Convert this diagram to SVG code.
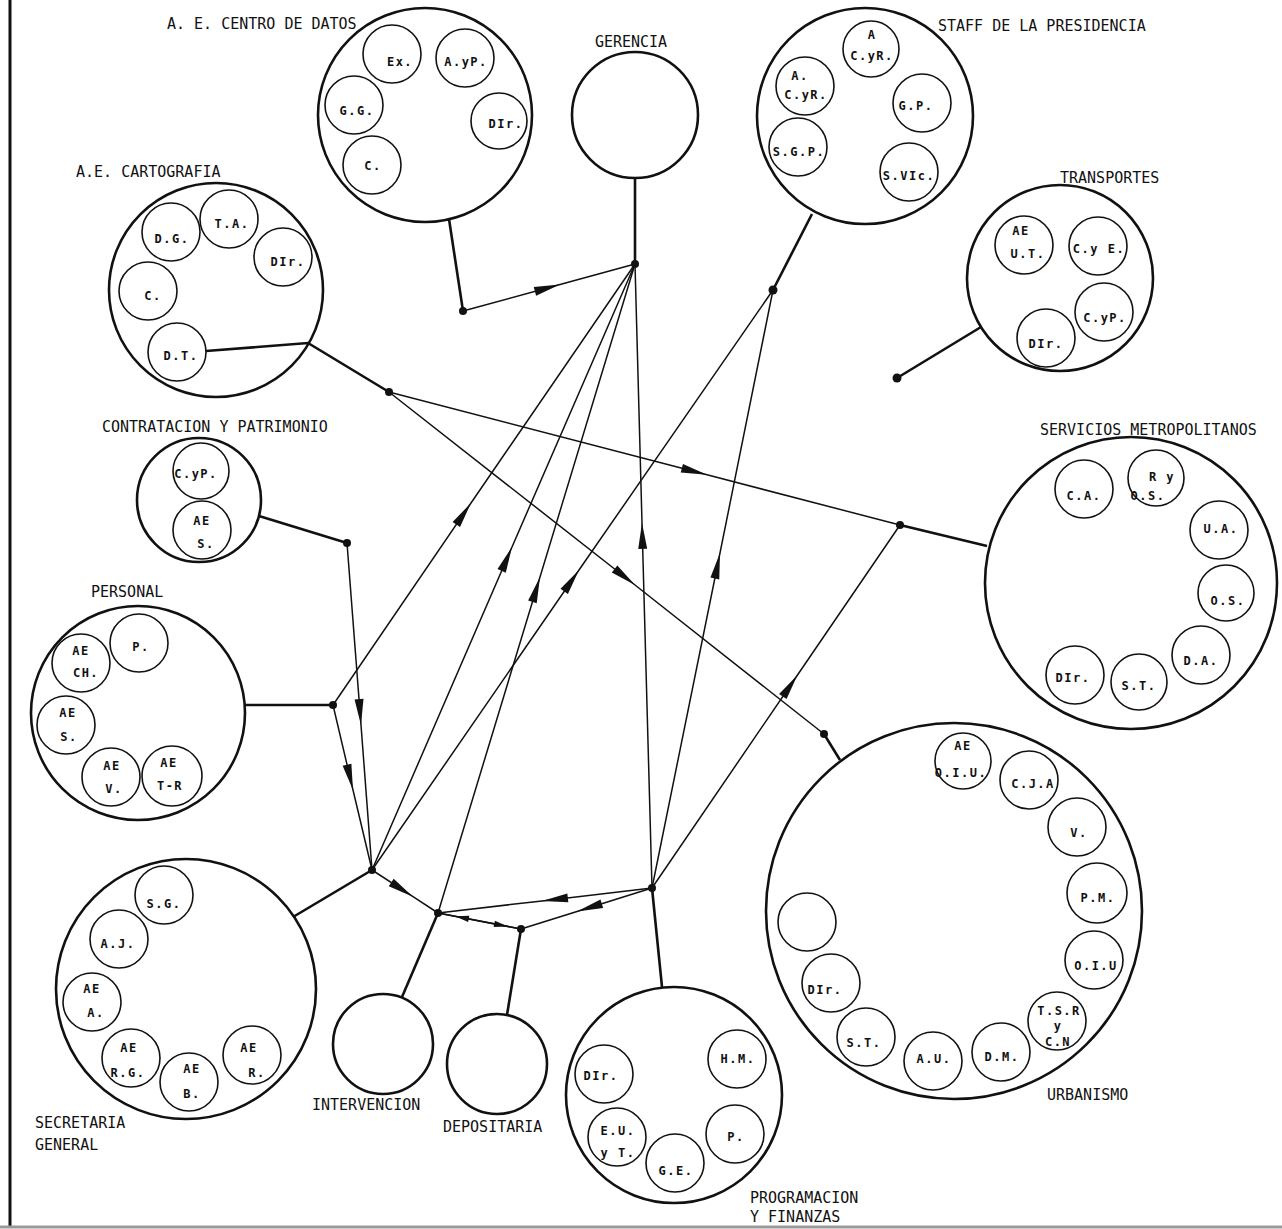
<svg xmlns="http://www.w3.org/2000/svg" width="1282" height="1229" viewBox="0 0 1282 1229">
<style>
.big{fill:none;stroke:#111;stroke-width:2.6}
.sm{fill:none;stroke:#111;stroke-width:1.6}
.stub{fill:none;stroke:#111;stroke-width:2.6}
.ln{fill:none;stroke:#111;stroke-width:1.5}
.ar{marker-mid:url(#ah)}
.ars{marker-mid:url(#ahs)}
.dot{fill:#111}
.frame{stroke:#111;stroke-width:3}
.lbl{font-family:"DejaVu Sans Mono","Liberation Mono",monospace;font-size:15px;fill:#111}
.in{font-family:"DejaVu Sans Mono","Liberation Mono",monospace;font-size:12px;font-weight:bold;letter-spacing:1.5px;text-anchor:middle;fill:#111}
</style>
<defs>
<marker id="ah" markerUnits="userSpaceOnUse" markerWidth="28" markerHeight="12" viewBox="-27 -6 28 12" refX="0" refY="0" orient="auto"><path d="M0,0 L-26,-4.5 L-26,4.5 Z" fill="#111"/></marker>
<marker id="ahs" markerUnits="userSpaceOnUse" markerWidth="16" markerHeight="8" viewBox="-15 -4 16 8" refX="0" refY="0" orient="auto"><path d="M0,0 L-14,-3.2 L-14,3.2 Z" fill="#111"/></marker>
</defs>
<rect x="0" y="0" width="1282" height="1229" fill="#fff"/>
<g id="frame">
<line class="frame" x1="10" y1="0" x2="10" y2="1226"/>
<line x1="0" y1="1227" x2="1282" y2="1227" stroke="#999" stroke-width="3"/>
</g>

<g id="connectors">
<path class="stub" d="M449,219 L463,311"/>
<path class="stub" d="M635,178 L635,264"/>
<path class="stub" d="M812,214 L773,290"/>
<path class="stub" d="M981,327 L897,378"/>
<path class="stub" d="M206,351 L308,343 L389,392"/>
<path class="stub" d="M987,546 L900,525"/>
<path class="stub" d="M259,516 L347,543"/>
<path class="stub" d="M245,705 L333,705"/>
<path class="stub" d="M840,760 L824,734"/>
<path class="stub" d="M293,917 L372,870"/>
<path class="stub" d="M402,997 L438,913"/>
<path class="stub" d="M507,1015 L521,929"/>
<path class="stub" d="M662,987 L652,888"/>

<path class="ln ar" d="M463,311 L560,284.5 L635,264"/>
<path class="ln ar" d="M333,705 L471,503 L635,264"/>
<path class="ln ar" d="M372,870 L512,547 L635,264"/>
<path class="ln ar" d="M438,913 L540,577 L635,264"/>
<path class="ln ar" d="M652,888 L642,523 L635,264"/>
<path class="ln ar" d="M372,870 L579,570 L773,290"/>
<path class="ln ar" d="M652,888 L720,553 L773,290"/>
<path class="ln ar" d="M389,392 L707,474.8 L900,525"/>
<path class="ln ar" d="M389,392 L635,585 L824,734"/>
<path class="ln ar" d="M652,888 L797.5,675 L900,525"/>
<path class="ln ar" d="M347,543 L361,725 L372,870"/>
<path class="ln ar" d="M333,705 L353,790 L372,870"/>
<path class="ln ar" d="M372,870 L413,896.7 L438,913"/>
<path class="ln ar" d="M652,888 L542,900.9 L438,913"/>
<path class="ln ar" d="M652,888 L577,911.5 L521,929"/>
<path class="ln ars" d="M521,929 L455,916.3 L438,913"/>
<path class="ln ars" d="M438,913 L508,926.5 L521,929"/>

<circle class="dot" cx="463" cy="311" r="4"/>
<circle class="dot" cx="635" cy="264" r="4"/>
<circle class="dot" cx="773" cy="290" r="4.5"/>
<circle class="dot" cx="897" cy="378" r="4.5"/>
<circle class="dot" cx="389" cy="392" r="4"/>
<circle class="dot" cx="900" cy="525" r="4"/>
<circle class="dot" cx="347" cy="543" r="4"/>
<circle class="dot" cx="333" cy="705" r="4"/>
<circle class="dot" cx="824" cy="734" r="4"/>
<circle class="dot" cx="372" cy="870" r="4"/>
<circle class="dot" cx="438" cy="913" r="4"/>
<circle class="dot" cx="521" cy="929" r="4"/>
<circle class="dot" cx="652" cy="888" r="4"/>
</g>

<g id="centro-datos">
<circle class="big" cx="425" cy="115" r="107"/>
<circle class="sm" cx="392" cy="54" r="29"/><text class="in" x="400" y="66">Ex.</text>
<circle class="sm" cx="465" cy="58" r="29"/><text class="in" x="466" y="66">A.yP.</text>
<circle class="sm" cx="354" cy="105" r="29"/><text class="in" x="357" y="115">G.G.</text>
<circle class="sm" cx="499" cy="121" r="28"/><text class="in" x="506" y="128">DIr.</text>
<circle class="sm" cx="372" cy="165" r="29"/><text class="in" x="373" y="170">C.</text>
<text class="lbl" x="167" y="29">A. E. CENTRO DE DATOS</text>
</g>

<g id="gerencia">
<circle class="big" cx="635" cy="115" r="63"/>
<text class="lbl" x="631" y="47" text-anchor="middle">GERENCIA</text>
</g>

<g id="staff-presidencia">
<circle class="big" cx="865" cy="116" r="108"/>
<circle class="sm" cx="871" cy="49" r="28"/><text class="in" x="872" y="39">A</text><text class="in" x="872" y="60">C.yR.</text>
<circle class="sm" cx="805" cy="86" r="29"/><text class="in" x="800" y="80">A.</text><text class="in" x="806" y="99">C.yR.</text>
<circle class="sm" cx="922" cy="103" r="29"/><text class="in" x="916" y="110">G.P.</text>
<circle class="sm" cx="798" cy="147" r="29"/><text class="in" x="799" y="156">S.G.P.</text>
<circle class="sm" cx="909" cy="172" r="29"/><text class="in" x="909" y="180">S.VIc.</text>
<text class="lbl" x="938" y="31">STAFF DE LA PRESIDENCIA</text>
</g>

<g id="transportes">
<circle class="big" cx="1060" cy="278" r="93"/>
<circle class="sm" cx="1024" cy="245" r="29"/><text class="in" x="1021" y="235">AE</text><text class="in" x="1028" y="258">U.T.</text>
<circle class="sm" cx="1098" cy="246" r="29"/><text class="in" x="1099" y="253">C.y E.</text>
<circle class="sm" cx="1104" cy="312" r="29"/><text class="in" x="1105" y="322">C.yP.</text>
<circle class="sm" cx="1046" cy="338" r="29"/><text class="in" x="1046" y="348">DIr.</text>
<text class="lbl" x="1060" y="183">TRANSPORTES</text>
</g>

<g id="cartografia">
<circle class="big" cx="216" cy="290" r="107"/>
<circle class="sm" cx="171" cy="232" r="29"/><text class="in" x="172" y="243">D.G.</text>
<circle class="sm" cx="229" cy="219" r="29"/><text class="in" x="232" y="228">T.A.</text>
<circle class="sm" cx="283" cy="257" r="29"/><text class="in" x="288" y="266">DIr.</text>
<circle class="sm" cx="148" cy="291" r="29"/><text class="in" x="153" y="300">C.</text>
<circle class="sm" cx="177" cy="352" r="29"/><text class="in" x="181" y="360">D.T.</text>
<text class="lbl" x="76" y="177">A.E. CARTOGRAFIA</text>
</g>

<g id="contratacion-patrimonio">
<circle class="big" cx="199" cy="500" r="62"/>
<circle class="sm" cx="201" cy="471" r="28"/><text class="in" x="196" y="478">C.yP.</text>
<circle class="sm" cx="202" cy="530" r="29"/><text class="in" x="202" y="525">AE</text><text class="in" x="206" y="548">S.</text>
<text class="lbl" x="102" y="432">CONTRATACION Y PATRIMONIO</text>
</g>

<g id="personal">
<circle class="big" cx="138" cy="713" r="107"/>
<circle class="sm" cx="81" cy="663" r="29"/><text class="in" x="81" y="655">AE</text><text class="in" x="86" y="677">CH.</text>
<circle class="sm" cx="139" cy="643" r="29"/><text class="in" x="141" y="651">P.</text>
<circle class="sm" cx="66" cy="725" r="29"/><text class="in" x="68" y="717">AE</text><text class="in" x="69" y="741">S.</text>
<circle class="sm" cx="111" cy="777" r="29"/><text class="in" x="112" y="770">AE</text><text class="in" x="114" y="793">V.</text>
<circle class="sm" cx="172" cy="776" r="30"/><text class="in" x="169" y="767">AE</text><text class="in" x="170" y="790">T-R</text>
<text class="lbl" x="91" y="597">PERSONAL</text>
</g>

<g id="servicios-metropolitanos">
<circle class="big" cx="1131" cy="583" r="146"/>
<circle class="sm" cx="1084" cy="489" r="29"/><text class="in" x="1084" y="500">C.A.</text>
<circle class="sm" cx="1156" cy="478" r="28"/><text class="in" x="1162" y="481">R y</text><text class="in" x="1148" y="500">O.S.</text>
<circle class="sm" cx="1219" cy="530" r="29"/><text class="in" x="1221" y="533">U.A.</text>
<circle class="sm" cx="1226" cy="593" r="28"/><text class="in" x="1228" y="605">O.S.</text>
<circle class="sm" cx="1201" cy="655" r="29"/><text class="in" x="1201" y="665">D.A.</text>
<circle class="sm" cx="1139" cy="682" r="28"/><text class="in" x="1139" y="690">S.T.</text>
<circle class="sm" cx="1075" cy="675" r="29"/><text class="in" x="1073" y="682">DIr.</text>
<text class="lbl" x="1040" y="435">SERVICIOS METROPOLITANOS</text>
</g>

<g id="urbanismo">
<circle class="big" cx="954" cy="911" r="188"/>
<circle class="sm" cx="963" cy="761" r="28"/><text class="in" x="963" y="750">AE</text><text class="in" x="961" y="777">O.I.U.</text>
<circle class="sm" cx="1029" cy="780" r="29"/><text class="in" x="1033" y="788">C.J.A</text>
<circle class="sm" cx="1077" cy="827" r="29"/><text class="in" x="1079" y="837">V.</text>
<circle class="sm" cx="1097" cy="893" r="30"/><text class="in" x="1098" y="902">P.M.</text>
<circle class="sm" cx="1094" cy="960" r="29"/><text class="in" x="1096" y="970">O.I.U</text>
<circle class="sm" cx="1057" cy="1021" r="29"/><text class="in" x="1059" y="1015">T.S.R</text><text class="in" x="1058" y="1030">y</text><text class="in" x="1058" y="1046">C.N</text>
<circle class="sm" cx="1001" cy="1052" r="29"/><text class="in" x="1002" y="1061">D.M.</text>
<circle class="sm" cx="933" cy="1061" r="29"/><text class="in" x="934" y="1063">A.U.</text>
<circle class="sm" cx="866" cy="1037" r="29"/><text class="in" x="864" y="1047">S.T.</text>
<circle class="sm" cx="831" cy="983" r="29"/><text class="in" x="825" y="994">DIr.</text>
<circle class="sm" cx="807" cy="922" r="29"/>
<text class="lbl" x="1047" y="1100">URBANISMO</text>
</g>

<g id="secretaria-general">
<circle class="big" cx="186" cy="989" r="130"/>
<circle class="sm" cx="164" cy="895" r="29"/><text class="in" x="164" y="908">S.G.</text>
<circle class="sm" cx="119" cy="939" r="29"/><text class="in" x="118" y="948">A.J.</text>
<circle class="sm" cx="92" cy="1002" r="29"/><text class="in" x="92" y="993">AE</text><text class="in" x="96" y="1017">A.</text>
<circle class="sm" cx="131" cy="1058" r="29"/><text class="in" x="129" y="1052">AE</text><text class="in" x="128" y="1077">R.G.</text>
<circle class="sm" cx="189" cy="1082" r="29"/><text class="in" x="192" y="1073">AE</text><text class="in" x="192" y="1098">B.</text>
<circle class="sm" cx="252" cy="1055" r="29"/><text class="in" x="249" y="1052">AE</text><text class="in" x="257" y="1077">R.</text>
<text class="lbl" x="35" y="1128">SECRETARIA</text>
<text class="lbl" x="35" y="1150">GENERAL</text>
</g>

<g id="intervencion">
<circle class="big" cx="383" cy="1044" r="50"/>
<text class="lbl" x="312" y="1110">INTERVENCION</text>
</g>

<g id="depositaria">
<circle class="big" cx="497" cy="1064" r="50"/>
<text class="lbl" x="443" y="1132">DEPOSITARIA</text>
</g>

<g id="programacion-finanzas">
<circle class="big" cx="674" cy="1095" r="108"/>
<circle class="sm" cx="604" cy="1074" r="29"/><text class="in" x="601" y="1080">DIr.</text>
<circle class="sm" cx="737" cy="1059" r="29"/><text class="in" x="738" y="1063">H.M.</text>
<circle class="sm" cx="617" cy="1137" r="29"/><text class="in" x="618" y="1135">E.U.</text><text class="in" x="618" y="1157">y T.</text>
<circle class="sm" cx="735" cy="1134" r="29"/><text class="in" x="736" y="1141">P.</text>
<circle class="sm" cx="675" cy="1163" r="29"/><text class="in" x="676" y="1175">G.E.</text>
<text class="lbl" x="750" y="1203">PROGRAMACION</text>
<text class="lbl" x="750" y="1222">Y FINANZAS</text>
</g>
</svg>
